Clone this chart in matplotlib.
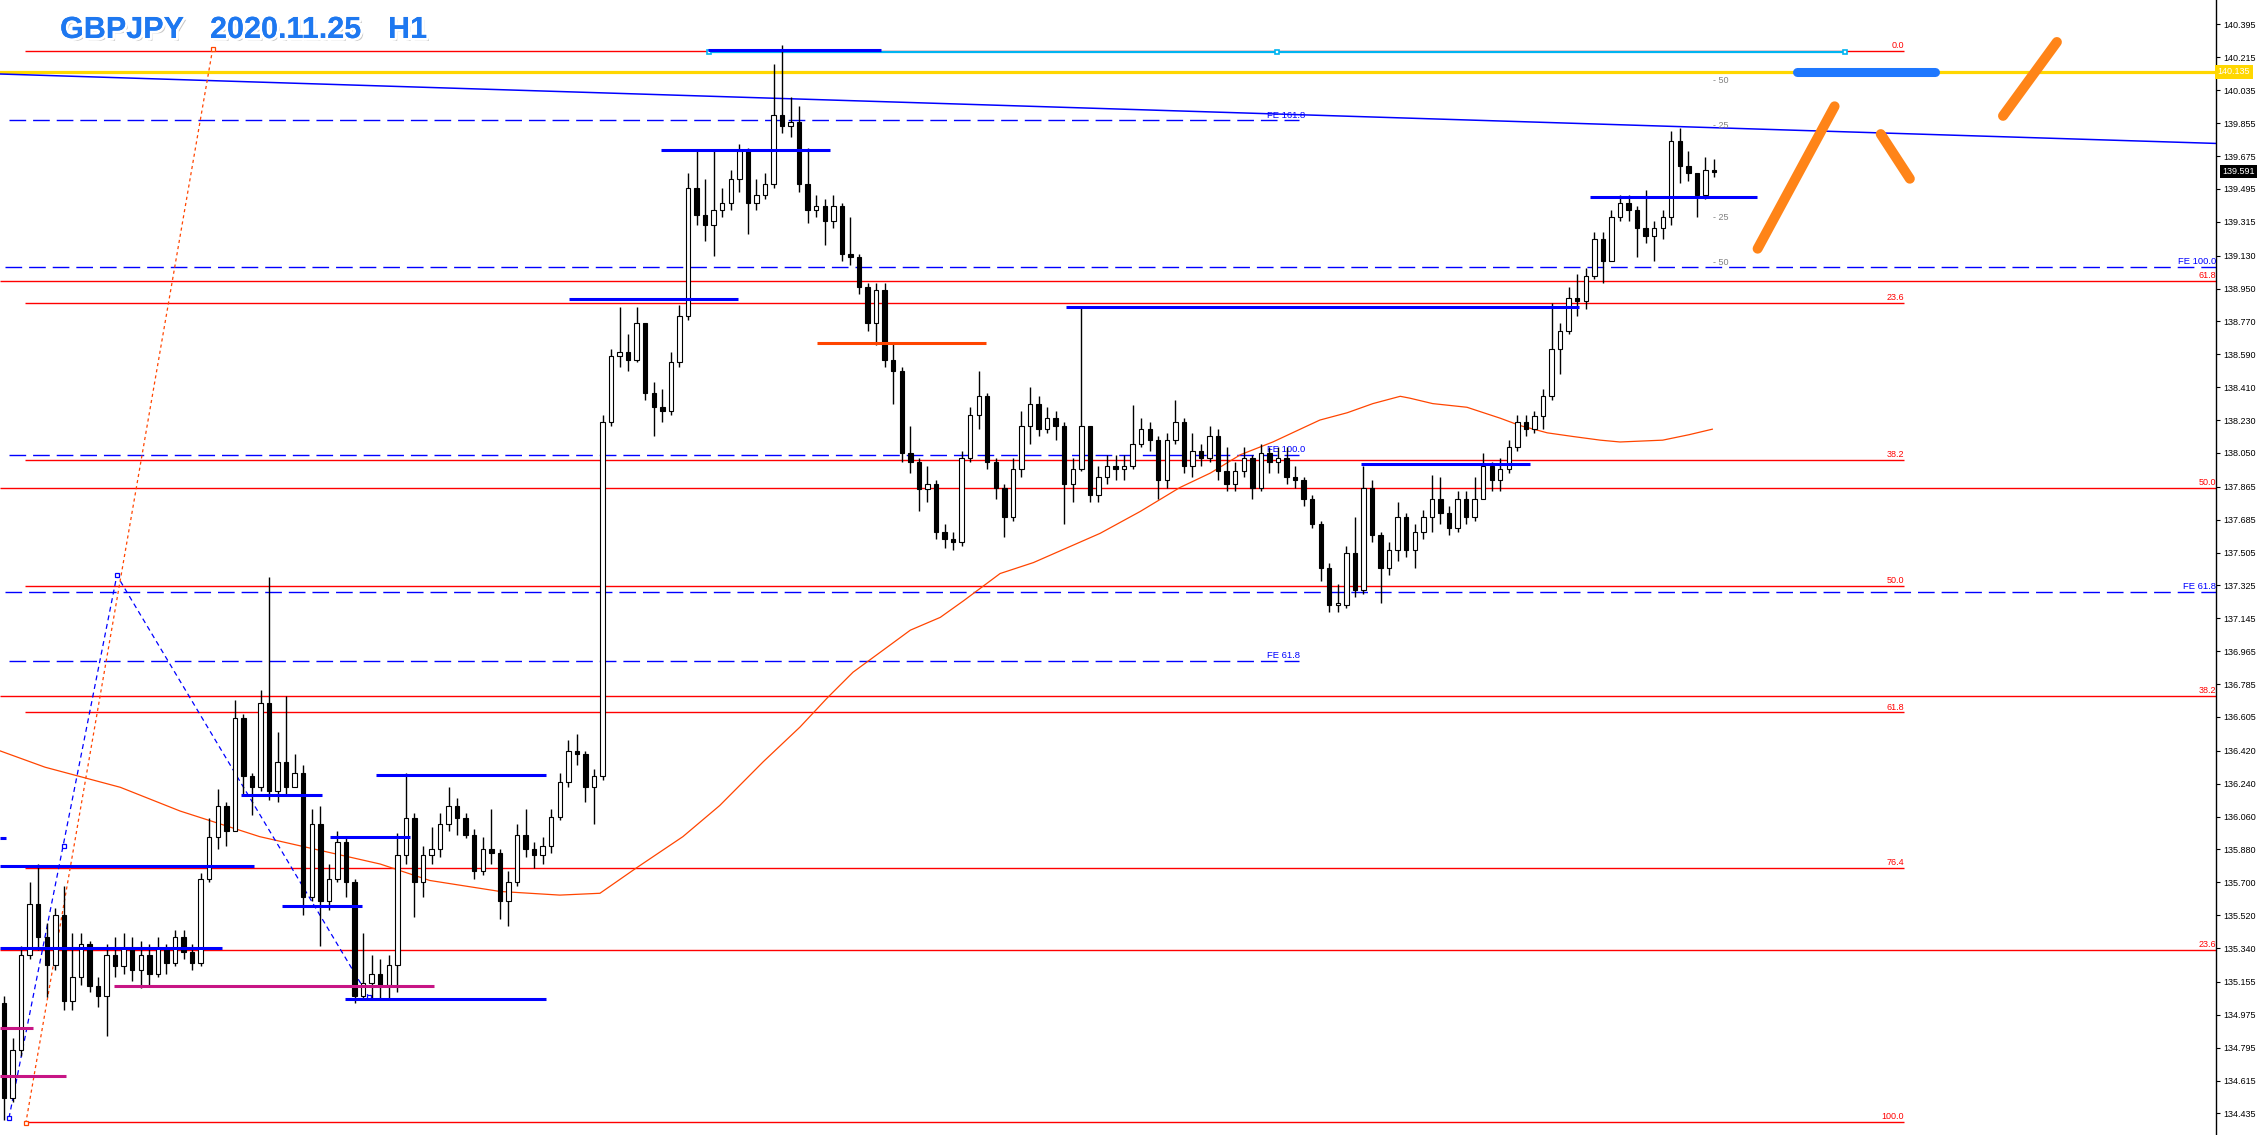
import numpy as np
import matplotlib
matplotlib.use('Agg')
import matplotlib.pyplot as plt
import matplotlib.patheffects as pe

plt.rcParams['font.family'] = ['Liberation Sans', 'DejaVu Sans']

#---------------------------------------------------------------------
#------------ data (GBPJPY, 2 hours per bar) ------
#---------------------------------------------------------------------
first_open = 135.04

close = [134.52, 134.78, 135.30, 135.58, 135.40, 135.25, 135.52, 135.05, 135.18, 135.36,   # 0
         135.13, 135.08, 135.30, 135.24, 135.34, 135.22, 135.30, 135.20, 135.34, 135.26,   # 10
         135.40, 135.32, 135.26, 135.72, 135.95, 136.12, 135.98, 136.60, 136.28, 136.22,   # 20
         136.68, 136.20, 136.36, 136.22, 136.30, 135.62, 136.02, 135.60, 135.72, 135.92,   # 30
         135.70, 135.08, 135.15, 135.20, 135.14, 135.25, 135.85, 136.05, 135.70, 135.85,   # 40
         135.88, 136.02, 136.12, 136.05, 135.96, 135.76, 135.88, 135.86, 135.60, 135.70,   # 50
         135.96, 135.88, 135.85, 135.90, 136.06, 136.25, 136.42, 136.40, 136.22, 136.28,   # 60
         138.22, 138.58, 138.60, 138.56, 138.76, 138.38, 138.30, 138.28, 138.55, 138.80,   # 70
         139.50, 139.35, 139.30, 139.38, 139.42, 139.55, 139.70, 139.42, 139.46, 139.52,   # 80
         139.90, 139.84, 139.86, 139.52, 139.38, 139.40, 139.32, 139.40, 139.14, 139.12,   # 90
         138.96, 138.76, 138.94, 138.56, 138.50, 138.05, 138.00, 137.85, 137.88, 137.62,   # 100
         137.58, 137.56, 138.02, 138.26, 138.36, 138.00, 137.86, 137.70, 137.96, 138.20,   # 110
         138.32, 138.18, 138.24, 138.20, 137.88, 137.96, 138.20, 137.82, 137.92, 137.98,   # 120
         137.96, 137.98, 138.10, 138.18, 138.12, 137.90, 138.12, 138.22, 137.98, 138.06,   # 130
         138.02, 138.14, 137.95, 137.88, 137.95, 138.02, 137.86, 138.05, 138.00, 138.02,   # 140
         137.92, 137.90, 137.80, 137.66, 137.42, 137.22, 137.22, 137.50, 137.30, 137.86,   # 150
         137.60, 137.42, 137.52, 137.70, 137.52, 137.62, 137.70, 137.80, 137.72, 137.64,   # 160
         137.80, 137.70, 137.80, 137.98, 137.90, 137.96, 138.08, 138.22, 138.18, 138.25,   # 170
         138.36, 138.62, 138.72, 138.90, 138.88, 139.02, 139.22, 139.10, 139.34, 139.42,   # 180
         139.38, 139.28, 139.24, 139.28, 139.34, 139.76, 139.62, 139.58, 139.46, 139.60,   # 190
         139.59]

high = [135.08, 134.85, 135.35, 135.70, 135.80, 135.48, 135.56, 135.68, 135.42, 135.42,
        135.38, 135.18, 135.36, 135.40, 135.42, 135.40, 135.38, 135.36, 135.40, 135.36,
        135.44, 135.44, 135.36, 135.75, 136.05, 136.21, 136.14, 136.70, 136.62, 136.30,
        136.75, 137.37, 136.52, 136.72, 136.40, 136.34, 136.10, 136.12, 135.80, 135.98,
        135.94, 135.72, 135.42, 135.30, 135.28, 135.30, 135.97, 136.30, 136.08, 135.90,
        136.00, 136.08, 136.22, 136.16, 136.08, 135.99, 135.95, 136.10, 135.88, 135.76,
        136.02, 136.10, 135.92, 135.95, 136.10, 136.30, 136.48, 136.51, 136.42, 136.32,
        138.26, 138.62, 138.85, 138.70, 138.85, 138.76, 138.44, 138.40, 138.60, 138.86,
        139.58, 139.71, 139.55, 139.70, 139.50, 139.60, 139.74, 139.72, 139.55, 139.58,
        140.18, 140.28, 140.00, 139.95, 139.72, 139.46, 139.44, 139.46, 139.42, 139.34,
        139.14, 138.98, 138.98, 138.98, 138.65, 138.52, 138.20, 138.02, 137.98, 137.90,
        137.66, 137.62, 138.06, 138.30, 138.50, 138.38, 138.02, 137.88, 138.02, 138.28,
        138.41, 138.36, 138.30, 138.28, 138.22, 138.02, 138.85, 138.14, 137.98, 138.04,
        138.04, 138.04, 138.31, 138.24, 138.22, 138.14, 138.16, 138.34, 138.24, 138.16,
        138.10, 138.20, 138.18, 138.08, 138.00, 138.08, 138.04, 138.10, 138.08, 138.08,
        138.08, 137.98, 137.92, 137.82, 137.68, 137.45, 137.33, 137.54, 137.70, 137.98,
        137.90, 137.62, 137.56, 137.78, 137.72, 137.66, 137.74, 137.93, 137.92, 137.76,
        137.84, 137.84, 137.92, 138.05, 138.00, 138.02, 138.12, 138.26, 138.26, 138.28,
        138.40, 138.87, 138.76, 138.96, 139.03, 139.06, 139.26, 139.26, 139.38, 139.46,
        139.46, 139.40, 139.49, 139.32, 139.38, 139.81, 139.83, 139.70, 139.54, 139.67,
        139.66]

low = [134.40, 134.50, 134.75, 135.28, 135.33, 135.07, 135.22, 135.00, 135.00, 135.14,
       135.10, 135.02, 134.86, 135.18, 135.20, 135.16, 135.12, 135.14, 135.18, 135.20,
       135.24, 135.28, 135.22, 135.24, 135.70, 135.88, 135.90, 136.02, 136.18, 136.07,
       136.20, 136.15, 136.14, 136.18, 136.22, 135.52, 135.60, 135.35, 135.55, 135.70,
       135.62, 135.04, 135.06, 135.06, 135.06, 135.06, 135.10, 135.80, 135.51, 135.62,
       135.80, 135.84, 135.98, 135.96, 135.94, 135.72, 135.74, 135.80, 135.50, 135.46,
       135.68, 135.84, 135.78, 135.80, 135.86, 136.04, 136.22, 136.34, 136.14, 136.02,
       136.26, 138.20, 138.52, 138.50, 138.55, 138.34, 138.14, 138.22, 138.26, 138.52,
       138.78, 139.30, 139.21, 139.13, 139.34, 139.38, 139.48, 139.25, 139.38, 139.44,
       139.50, 139.80, 139.78, 139.48, 139.31, 139.34, 139.19, 139.28, 139.10, 139.08,
       138.92, 138.72, 138.64, 138.52, 138.32, 138.00, 137.94, 137.73, 137.78, 137.58,
       137.53, 137.52, 137.54, 138.00, 138.18, 137.96, 137.80, 137.59, 137.68, 137.92,
       138.10, 138.14, 138.16, 138.12, 137.66, 137.78, 137.95, 137.78, 137.78, 137.88,
       137.90, 137.90, 137.96, 138.08, 138.06, 137.80, 137.86, 138.10, 137.94, 137.92,
       137.98, 138.00, 137.90, 137.84, 137.84, 137.92, 137.80, 137.84, 137.94, 137.94,
       137.88, 137.86, 137.76, 137.64, 137.35, 137.18, 137.18, 137.20, 137.26, 137.28,
       137.56, 137.23, 137.38, 137.46, 137.48, 137.42, 137.58, 137.62, 137.66, 137.60,
       137.62, 137.66, 137.68, 137.80, 137.84, 137.84, 137.94, 138.06, 138.14, 138.16,
       138.18, 138.34, 138.48, 138.70, 138.80, 138.84, 139.00, 138.98, 139.10, 139.32,
       139.32, 139.12, 139.20, 139.10, 139.22, 139.30, 139.53, 139.54, 139.34, 139.44,
       139.56]

# moving average (orange), sampled along the curve: bar index / price
ma_bar = [-0.5, 4.8, 13.6, 20.6, 29.9, 34.6, 44.0, 49.8, 58.0, 65.0, 69.7, 74.0, 79.4,
          83.7, 88.8, 93.1, 96.3, 99.3, 102.8, 106.0, 109.5, 112.2, 116.5, 120.4, 124.3,
          128.2, 132.9, 137.5, 141.1, 144.6, 148.4, 151.6, 153.9, 157.1, 160.1, 163.3,
          164.4, 167.1, 171.1, 175.0, 177.3, 180.5, 183.5, 186.7, 189.0, 194.0, 197.1, 199.8]
ma_price = [136.42, 136.33, 136.22, 136.09, 135.95, 135.90, 135.80, 135.71, 135.65, 135.63,
            135.64, 135.78, 135.95, 136.12, 136.36, 136.55, 136.71, 136.85, 136.97, 137.08,
            137.15, 137.24, 137.39, 137.45, 137.53, 137.61, 137.73, 137.86, 137.94, 138.04,
            138.11, 138.18, 138.23, 138.27, 138.32, 138.36, 138.35, 138.32, 138.30, 138.24,
            138.20, 138.16, 138.14, 138.12, 138.11, 138.12, 138.15, 138.18]

# fibo retracement #1 (labels in the middle of the chart)
fib1_lbl = ['0.0', '23.6', '38.2', '50.0', '61.8', '76.4', '100.0']
fib1_px = [140.25, 138.87, 138.01, 137.32, 136.63, 135.78, 134.39]
# fibo retracement #2 (labels at the price scale)
fib2_lbl = ['61.8', '50.0', '38.2', '23.6']
fib2_px = [138.99, 137.86, 136.72, 135.33]
# fibo expansion levels
fe1_lbl = ['FE 161.8', 'FE 100.0', 'FE 61.8']
fe1_px = [139.87, 138.04, 136.91]
fe2_lbl = ['FE 100.0', 'FE 61.8']
fe2_px = [139.07, 137.29]

# horizontal support / resistance segments: (start bar, end bar, price, colour)
sr_lines = [(76.8, 96.6, 139.71, 'b'), (66.1, 85.8, 138.89, 'b'), (124.2, 184.2, 138.85, 'b'),
            (185.5, 205.0, 139.45, 'b'), (158.7, 178.5, 137.99, 'b'), (95.1, 114.9, 138.65, 'o'),
            (-0.5, 29.2, 135.79, 'b'), (-0.5, 25.5, 135.34, 'b'), (12.9, 50.3, 135.13, 'm'),
            (39.9, 63.4, 135.06, 'b'), (43.5, 63.4, 136.29, 'b'), (38.1, 47.5, 135.95, 'b'),
            (32.5, 41.9, 135.57, 'b'), (27.7, 37.2, 136.18, 'b'), (-0.5, 0.2, 135.94, 'b'),
            (-0.5, 3.4, 134.90, 'm'), (-0.5, 7.3, 134.64, 'm'), (82.3, 102.6, 140.257, 'b')]

# fibo expansion zigzag and the retracement diagonal
zz_bar = [0.58, 13.2, 42.7]
zz_px = [134.41, 137.38, 135.07]
diag_bar = [2.54, 24.4]
diag_px = [134.38, 140.26]

trend_bar = [-0.47, 258.71]
trend_px = [140.124, 139.744]

# hand drawn scenario strokes (orange) and target bar (blue)
strokes = [([205.1, 214.1], [139.168, 139.947]),
           ([219.5, 222.9], [139.795, 139.551]),
           ([233.8, 240.1], [139.895, 140.299])]
target_bar = [209.7, 225.9]
target_px = 140.133

yticks = [140.395, 140.215, 140.035, 139.855, 139.675, 139.495, 139.315, 139.130, 138.950,
          138.770, 138.590, 138.410, 138.230, 138.050, 137.865, 137.685, 137.505, 137.325,
          137.145, 136.965, 136.785, 136.605, 136.420, 136.240, 136.060, 135.880, 135.700,
          135.520, 135.340, 135.155, 134.975, 134.795, 134.615, 134.435]

#---------------------------------------------------------------------
#------------ plotting -----------------------------------------------
#---------------------------------------------------------------------
BLUE = '#0000FF'
RED = '#FF0000'
cols = {'b': BLUE, 'o': '#FF4500', 'm': '#C71585'}

fig = plt.figure(figsize=(22.6, 11.35), dpi=100)
ax = fig.add_axes([0, 0, 2216 / 2260, 1])
ax.set_xlim(-0.47, 258.71)
ax.set_ylim(134.317, 140.529)

# fibo lines
x_end = 258.71
for l, p in zip(fib1_lbl, fib1_px):
    ax.hlines(p, 2.46, 222.2, color=RED, lw=1, zorder=1)
    ax.annotate(l, xy=(222.2, p), xytext=(0, 0.6), textcoords='offset points',
                ha='right', va='bottom', fontsize=6.5, color=RED)
for l, p in zip(fib2_lbl, fib2_px):
    ax.hlines(p, -0.47, x_end, color=RED, lw=1, zorder=1)
    ax.annotate(l, xy=(x_end, p), xytext=(0, 0.6), textcoords='offset points',
                ha='right', va='bottom', fontsize=6.5, color=RED)
for l, p in zip(fe1_lbl, fe1_px):
    ax.hlines(p, 0.6, 151.5, color=BLUE, lw=1, linestyles=(0, (12, 5)), zorder=1)
    ax.annotate(l, xy=(147.7, p), xytext=(0, 0.6), textcoords='offset points',
                ha='left', va='bottom', fontsize=6.8, color=BLUE)
for l, p in zip(fe2_lbl, fe2_px):
    ax.hlines(p, 0.12, x_end, color=BLUE, lw=1, linestyles=(0, (12, 5)), zorder=1)
    ax.annotate(l, xy=(x_end, p), xytext=(0, 0.6), textcoords='offset points',
                ha='right', va='bottom', fontsize=6.8, color=BLUE)

# yellow level, trendline, cyan line
ax.axhline(140.135, color='#FFD700', lw=2.3, zorder=2)
ax.plot(trend_bar, trend_px, color=BLUE, lw=1.1, zorder=2)
ax.plot([82.5, 215.3], [140.242, 140.242], color='#00B4F0', lw=1.6, zorder=2)
ax.plot([82.5, 148.9, 215.3], [140.242] * 3, 's', ms=3.5, mfc='white', mec='#00B4F0',
        mew=1.2, zorder=3)

# moving average
ax.plot(ma_bar, ma_price, color='#FF4500', lw=0.9, zorder=2)

# zigzag + diagonal
ax.plot(zz_bar, zz_px, color=BLUE, lw=0.9, ls=(0, (4, 3)), zorder=2)
ax.plot(zz_bar + [6.96], zz_px + [135.90], 's', ms=3, mfc='white', mec=BLUE, mew=0.9, zorder=3)
ax.plot(diag_bar, diag_px, color='#FF4500', lw=0.9, ls=(0, (2.5, 2.5)), zorder=2)
ax.plot(diag_bar, diag_px, 's', ms=3, mfc='white', mec='#FF4500', mew=0.9, zorder=3)

# candles
c = np.array(close)
o = np.r_[first_open, c[:-1]]
h = np.maximum(np.array(high), np.maximum(o, c))
lo = np.minimum(np.array(low), np.minimum(o, c))
x = np.arange(len(c))
up = c >= o
ax.vlines(x, lo, h, color='black', lw=1, zorder=3)
body = np.where(np.abs(c - o) < 0.006, 0.006, c - o)
ax.bar(x[up], body[up], bottom=o[up], width=0.52, facecolor='white', edgecolor='black',
       lw=0.8, zorder=4)
ax.bar(x[~up], body[~up], bottom=o[~up], width=0.52, facecolor='black', edgecolor='black',
       lw=0.8, zorder=4)

# support / resistance segments
for x0, x1, p, cc in sr_lines:
    ax.hlines(p, x0, x1, color=cols[cc], lw=2.2, zorder=5)

# scenario drawing
for sx, sy in strokes:
    ax.plot(sx, sy, color='#FF8418', lw=7.2, solid_capstyle='round', zorder=6)
ax.plot(target_bar, [target_px] * 2, color='#1F78FF', lw=6.5, solid_capstyle='round', zorder=6)

# small grey channel labels
for p, t in zip([140.09, 139.84, 139.34, 139.09], ['- 50', '- 25', '- 25', '- 50']):
    ax.text(199.9, p, t, color='#808080', fontsize=6.5, va='center', ha='left')

# price scale
for s in ['top', 'left', 'bottom']:
    ax.spines[s].set_visible(False)
ax.spines['right'].set_color('black')
ax.spines['right'].set_linewidth(1)
ax.set_xticks([])
ax.yaxis.tick_right()
ax.set_yticks(yticks)
ax.set_yticklabels(['{:.3f}'.format(t) for t in yticks])
ax.tick_params(axis='y', length=3, width=0.8, pad=2, labelsize=6.5, colors='black')

ytr = ax.get_yaxis_transform()
ax.text(1.0008, 140.135, '140.135', transform=ytr, ha='left', va='center', fontsize=6.5,
        color='white', bbox=dict(boxstyle='square,pad=0.3', fc='#FFD700', ec='none'),
        zorder=10, clip_on=False)
ax.text(1.0028, 139.591, '139.591', transform=ytr, ha='left', va='center', fontsize=6.5,
        color='white', bbox=dict(boxstyle='square,pad=0.25', fc='black', ec='none'),
        zorder=10, clip_on=False)

# title
effects = [pe.SimplePatchShadow(offset=(2, -2), shadow_rgbFace='#909090', alpha=0.5),
           pe.withStroke(linewidth=4, foreground='white'), pe.Normal()]
for tx, t in zip([60, 210, 388], ['GBPJPY', '2020.11.25', 'H1']):
    fig.text(tx / 2260, 1 - 38 / 1135, t, fontsize=22, fontweight='bold', color='#1E78F0',
             va='baseline', ha='left', path_effects=effects)

plt.savefig('out.png', dpi=100)
